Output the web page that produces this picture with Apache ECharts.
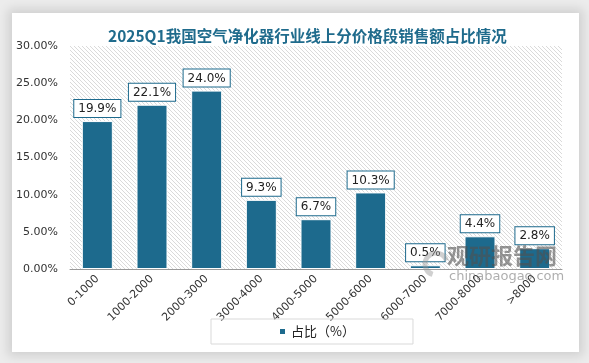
<!DOCTYPE html>
<html><head><meta charset="utf-8">
<script src="https://cdn.jsdelivr.net/npm/echarts@6/dist/echarts.min.js"></script>
<style>
html,body{margin:0;padding:0;background:#ececec;}
#card{position:absolute;left:12px;top:13px;width:567px;height:339px;background:#fff;box-shadow:0 0 10px 4px rgba(0,0,0,0.12);}
#chart{position:absolute;left:0;top:0;width:589px;height:363px;}
</style></head>
<body>
<div id="card"></div>
<div id="chart"></div>
<script>
const categories = ['0-1000','1000-2000','2000-3000','3000-4000','4000-5000','5000-6000','6000-7000','7000-8000','>8000'];
const shareValues = [19.9, 22.1, 24.0, 9.3, 6.7, 10.3, 0.5, 4.4, 2.8];
const yTicks = [0, 5, 10, 15, 20, 25, 30];
const seriesName = '占比（%）';
const titleText = '2025Q1我国空气净化器行业线上分价格段销售额占比情况';

const c = document.createElement('canvas');
c.width = 4; c.height = 4;
const ctx = c.getContext('2d');
ctx.fillStyle = '#ffffff'; ctx.fillRect(0,0,4,4);
ctx.strokeStyle = '#dadada'; ctx.lineWidth = 1;
ctx.beginPath();
ctx.moveTo(-1,-1); ctx.lineTo(5,5);
ctx.moveTo(-1,3); ctx.lineTo(1,5);
ctx.moveTo(3,-1); ctx.lineTo(5,1);
ctx.stroke();

const chart = echarts.init(document.getElementById('chart'), null, {renderer:'canvas'});
chart.setOption({
  animation:false,
  backgroundColor:'transparent',
  title:{text:titleText,left:103,top:23,
    textStyle:{fontFamily:'Noto Sans CJK SC',fontSize:15.5,fontWeight:'bold',color:'#1f6b8c'}},
  grid:{left:70,right:27,top:46,bottom:94,show:true,borderWidth:0,
    backgroundColor:{image:c,repeat:'repeat'}},
  legend:{show:true,left:211,top:319,padding:[6,58,6,67],
    borderColor:'#d9d9d9',borderWidth:1,itemWidth:7,itemHeight:7,itemGap:6,icon:'rect',
    textStyle:{fontFamily:'Noto Sans CJK SC',fontSize:13,color:'#222'},
    data:[seriesName]},
  xAxis:{type:'category',data:categories,
    axisLine:{lineStyle:{color:'#999',width:1}},axisTick:{show:false},
    axisLabel:{rotate:45,interval:0,fontFamily:'DejaVu Sans',fontSize:11,color:'#333',margin:8}},
  yAxis:{type:'value',min:0,max:30,interval:5,
    splitLine:{show:false},axisLine:{show:false},axisTick:{show:false},
    axisLabel:{formatter:v=>v.toFixed(2)+'%',fontFamily:'DejaVu Sans',fontSize:11,color:'#333',margin:12}},
  series:[{name:seriesName,type:'bar',data:shareValues,barWidth:31,
    itemStyle:{color:'#1d6a8d',borderColor:'#fff',borderWidth:1},
    label:{show:true,position:'top',distance:4,formatter:p=>p.value.toFixed(1)+'%',
      backgroundColor:'#fff',borderColor:'#1d6a8d',borderWidth:1,padding:[3,4,2,4],
      fontFamily:'DejaVu Sans',fontSize:12,color:'#222'}}],
  graphic:[
    {type:'text',x:447,y:245,z:100,style:{text:'观研报告网',font:'bold 22px "Noto Sans CJK SC"',fill:'rgba(80,80,80,0.6)'}},
    {type:'text',x:449,y:270,z:100,style:{text:'chinabaogao.com',font:'13px "DejaVu Sans"',fill:'rgba(120,120,120,0.6)'}},
    {type:'arc',z:100,shape:{cx:436,cy:264,r:11,startAngle:Math.PI*0.6,endAngle:Math.PI*1.9},style:{stroke:'rgba(150,150,150,0.45)',lineWidth:5,fill:'none'}}
  ]
});
</script>
</body></html>
